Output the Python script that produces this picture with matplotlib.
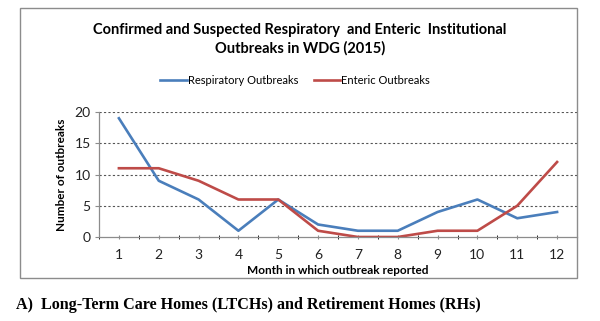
import numpy as np
import matplotlib
matplotlib.use("Agg")
import matplotlib.pyplot as plt
from matplotlib.patches import Rectangle

months = [1, 2, 3, 4, 5, 6, 7, 8, 9, 10, 11, 12]
respiratory = [19, 9, 6, 1, 6, 2, 1, 1, 4, 6, 3, 4]
enteric = [11, 11, 9, 6, 6, 1, 0, 0, 1, 1, 5, 12]
yticks = [0, 5, 10, 15, 20]

plt.rcParams['font.family'] = ['Lato', 'DejaVu Sans']

fig = plt.figure(figsize=(6, 3.21), dpi=100)
W, H = 600, 321

# chart frame
fig.patches.append(Rectangle((20 / W, 1 - 278 / H), 557 / W, 270 / H,
                             transform=fig.transFigure, fill=False,
                             edgecolor='#8c8c8c', linewidth=1.0))

ax = fig.add_axes([99 / W, 1 - 237 / H, 478 / W, 125 / H])
ax.plot(months, respiratory, color='#4a7ebb', lw=1.9, label='Respiratory Outbreaks')
ax.plot(months, enteric, color='#be4b48', lw=1.9, label='Enteric Outbreaks')

ax.set_xlim(0.5, 12.5)
ax.set_ylim(0, 20)
ax.set_xticks(months)
ax.set_xticks(np.arange(0.5, 13, 1), minor=True)
ax.set_yticks(yticks)
for y in yticks[1:]:
    ax.axhline(y, color='#555555', lw=0.8, ls=(0, (2, 2)), zorder=0)

for s in ['top', 'right']:
    ax.spines[s].set_visible(False)
for s in ['left', 'bottom']:
    ax.spines[s].set_color('#8c8c8c')
    ax.spines[s].set_linewidth(0.9)
ax.tick_params(axis='both', colors='#8c8c8c', labelcolor='#222222', labelsize=10)
ax.tick_params(axis='x', which='both', direction='inout', length=3, pad=7)
ax.tick_params(axis='y', length=3, pad=3)

ax.set_ylabel('Number of outbreaks', fontsize=8.5, fontweight='bold', labelpad=5)
ax.set_xlabel('Month in which outbreak reported', fontsize=8.5, fontweight='bold', labelpad=3)

fig.text(0.5, 1 - 30 / H, 'Confirmed and Suspected Respiratory  and Enteric  Institutional',
         ha='center', va='center', fontsize=10.5, fontweight='bold')
fig.text(0.5, 1 - 48 / H, 'Outbreaks in WDG (2015)',
         ha='center', va='center', fontsize=10.5, fontweight='bold')

fig.legend(loc='center', bbox_to_anchor=(295 / W, 1 - 80 / H), ncol=2, frameon=False,
           fontsize=8, handlelength=2.4, handletextpad=0.1, columnspacing=1.4)

fig.text(16 / W, 1 - 305 / H, 'A)  Long-Term Care Homes (LTCHs) and Retirement Homes (RHs)',
         ha='left', va='center', fontsize=11.6, fontweight='bold', family='Liberation Serif')

fig.savefig('out.png', dpi=100)
